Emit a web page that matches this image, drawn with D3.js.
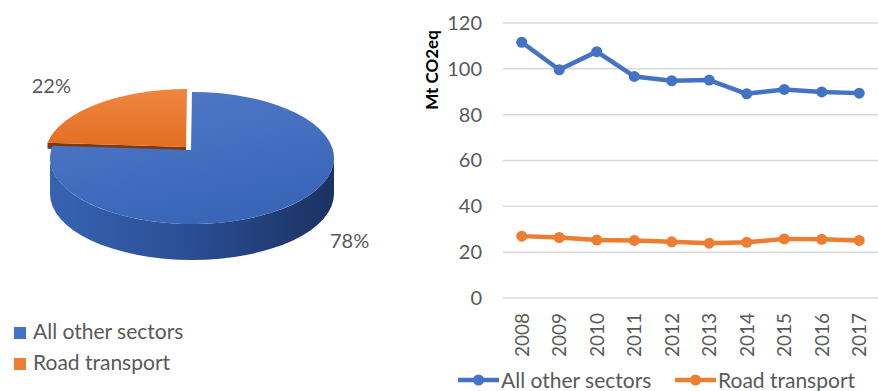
<!DOCTYPE html>
<html>
<head>
<meta charset="utf-8">
<script src="https://cdn.jsdelivr.net/npm/d3@7"></script>
<style>
  body { margin: 0; background: #fff; }
  svg { display: block; font-family: Lato, "Open Sans", sans-serif; }
</style>
</head>
<body>
<div id="chart"></div>
<script>
// pie shares (%)
var pieNames = ["All other sectors", "Road transport"];
var pieShares = [78, 22];

// line series
var years = ["2008", "2009", "2010", "2011", "2012", "2013", "2014", "2015", "2016", "2017"];
var otherSectors = [111.6, 99.6, 107.5, 96.7, 94.8, 95.1, 89.1, 91.0, 89.9, 89.4];
var roadTransport = [27.0, 26.4, 25.3, 25.1, 24.5, 23.9, 24.3, 25.8, 25.6, 25.1];
var yTicks = [0, 20, 40, 60, 80, 100, 120];

var colors = ["#4472C4", "#ED7D31"];
var textColor = "#595959";

var svg = d3.select("#chart").append("svg")
    .attr("width", 878)
    .attr("height", 391);

var defs = svg.append("defs");

// gradients for the 3d pie
var g1 = defs.append("linearGradient").attr("id", "blueTop")
    .attr("x1", 0).attr("y1", 0).attr("x2", 0.4).attr("y2", 1);
g1.append("stop").attr("offset", "0%").attr("stop-color", "#5179c8");
g1.append("stop").attr("offset", "100%").attr("stop-color", "#3a66b8");

var g2 = defs.append("linearGradient").attr("id", "blueSide")
    .attr("x1", 0).attr("y1", 0).attr("x2", 1).attr("y2", 0);
g2.append("stop").attr("offset", "0%").attr("stop-color", "#3862b0");
g2.append("stop").attr("offset", "45%").attr("stop-color", "#2b5098");
g2.append("stop").attr("offset", "100%").attr("stop-color", "#1b3262");

var g3 = defs.append("linearGradient").attr("id", "orangeTop")
    .attr("x1", 0).attr("y1", 0).attr("x2", 0).attr("y2", 1);
g3.append("stop").attr("offset", "0%").attr("stop-color", "#ee8642");
g3.append("stop").attr("offset", "100%").attr("stop-color", "#e46e20");

// ---- 3D pie ----
var cx = 192, cy = 158, rx = 142, ry = 66, depth = 36;
var vx = 191, vy = 150; // apex of the slices (perspective)

var pie = d3.pie().sort(null).value(function(d) { return d; });
var arcs = pie(pieShares);

function pt(a, dy) {
    return [cx + rx * Math.sin(a), cy - ry * Math.cos(a) + (dy || 0)];
}

function slicePath(d, ox, oy) {
    var p0 = pt(d.startAngle), p1 = pt(d.endAngle);
    var large = (d.endAngle - d.startAngle) > Math.PI ? 1 : 0;
    return "M" + (vx + ox) + "," + (vy + oy) +
        "L" + (p0[0] + ox) + "," + (p0[1] + oy) +
        "A" + rx + "," + ry + " 0 " + large + " 1 " + (p1[0] + ox) + "," + (p1[1] + oy) + "Z";
}

var pieG = svg.append("g");

// orange slice is pulled out a little
var ex = -5, ey = -3, wall = 6;
var orange = arcs[1];
var oe = pt(orange.startAngle);
// orange radial wall (visible as a thin dark strip)
pieG.append("path")
    .attr("d", "M" + (vx + ex) + "," + (vy + ey) + "L" + (oe[0] + ex) + "," + (oe[1] + ey) +
        "L" + (oe[0] + ex) + "," + (oe[1] + ey + wall) + "L" + (vx + ex) + "," + (vy + ey + wall) + "Z")
    .attr("fill", "#7a3a12");
pieG.append("path")
    .attr("d", slicePath(orange, ex, ey))
    .attr("fill", "url(#orangeTop)");

// blue side wall (front half)
pieG.append("path")
    .attr("d", "M" + (cx + rx) + "," + cy +
        "A" + rx + "," + ry + " 0 0 1 " + (cx - rx) + "," + cy +
        "L" + (cx - rx) + "," + (cy + depth) +
        "A" + rx + "," + ry + " 0 0 0 " + (cx + rx) + "," + (cy + depth) + "Z")
    .attr("fill", "url(#blueSide)");

pieG.append("path")
    .attr("d", slicePath(arcs[0], 0, 0))
    .attr("fill", "url(#blueTop)");

// percent labels
pieG.append("text")
    .attr("x", 71).attr("y", 93)
    .attr("text-anchor", "end")
    .attr("font-size", 20)
    .attr("fill", textColor)
    .text(pieShares[1] + "%");
pieG.append("text")
    .attr("x", 330).attr("y", 248)
    .attr("font-size", 20)
    .attr("fill", textColor)
    .text(pieShares[0] + "%");

// pie legend
var pl = svg.append("g").selectAll("g")
    .data(pieNames)
    .enter().append("g")
    .attr("transform", function(d, i) { return "translate(14," + (327 + i * 31) + ")"; });
pl.append("rect")
    .attr("width", 12).attr("height", 12)
    .attr("fill", function(d, i) { return colors[i]; });
pl.append("text")
    .attr("x", 19).attr("y", 12)
    .attr("font-size", 21)
    .attr("fill", textColor)
    .text(function(d) { return d; });

// ---- line chart ----
var x = d3.scalePoint().domain(years).range([503, 878]).padding(0.5);
var y = d3.scaleLinear().domain([0, 120]).range([298, 23]);

var grid = svg.append("g");
grid.selectAll("line")
    .data(yTicks)
    .enter().append("line")
    .attr("x1", 503).attr("x2", 878)
    .attr("y1", function(d) { return y(d); })
    .attr("y2", function(d) { return y(d); })
    .attr("stroke", "#d9d9d9")
    .attr("stroke-width", 1.5);

var yAxis = svg.append("g")
    .attr("transform", "translate(482,0)")
    .call(d3.axisLeft(y).tickValues(yTicks).tickSize(0).tickPadding(0));
yAxis.select(".domain").remove();
yAxis.selectAll("text")
    .attr("font-family", "Lato, sans-serif")
    .attr("font-size", 20)
    .attr("fill", textColor);

var xAxis = svg.append("g")
    .attr("transform", "translate(0,298)")
    .call(d3.axisBottom(x).tickSize(0));
xAxis.select(".domain").remove();
xAxis.selectAll("text")
    .attr("font-family", "Lato, sans-serif")
    .attr("font-size", 19)
    .attr("fill", textColor)
    .attr("text-anchor", "end")
    .attr("transform", "rotate(-90)")
    .attr("x", -15)
    .attr("y", 0)
    .attr("dy", "0.35em");

svg.append("text")
    .attr("transform", "translate(438,70) rotate(-90)")
    .attr("text-anchor", "middle")
    .attr("font-size", 17)
    .attr("font-weight", "bold")
    .attr("fill", "#000")
    .text("Mt CO2eq");

var series = [otherSectors, roadTransport];
var line = d3.line()
    .x(function(d, i) { return x(years[i]); })
    .y(function(d) { return y(d); });

series.forEach(function(s, k) {
    svg.append("path")
        .datum(s)
        .attr("d", line)
        .attr("fill", "none")
        .attr("stroke", colors[k])
        .attr("stroke-width", 4.5)
        .attr("stroke-linejoin", "round");
    svg.append("g").selectAll("circle")
        .data(s)
        .enter().append("circle")
        .attr("cx", function(d, i) { return x(years[i]); })
        .attr("cy", function(d) { return y(d); })
        .attr("r", 5.5)
        .attr("fill", colors[k]);
});

// line legend
var ll = svg.append("g").selectAll("g")
    .data(pieNames)
    .enter().append("g")
    .attr("transform", function(d, i) { return "translate(" + [458, 675][i] + ",380)"; });
ll.append("line")
    .attr("x1", 0).attr("x2", 41)
    .attr("stroke", function(d, i) { return colors[i]; })
    .attr("stroke-width", 4.5);
ll.append("circle")
    .attr("cx", 20.5).attr("r", 5.5)
    .attr("fill", function(d, i) { return colors[i]; });
ll.append("text")
    .attr("x", 43).attr("y", 8)
    .attr("font-size", 21)
    .attr("fill", textColor)
    .text(function(d) { return d; });
</script>
</body>
</html>
